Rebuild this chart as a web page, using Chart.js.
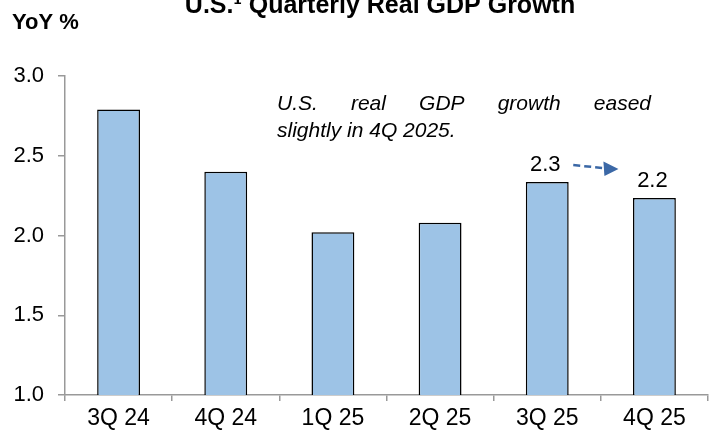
<!DOCTYPE html>
<html>
<head>
<meta charset="utf-8">
<script src="https://cdn.jsdelivr.net/npm/chart.js@4/dist/chart.umd.min.js"></script>
<style>
  html, body { margin: 0; padding: 0; background: #fff; }
  #wrap { width: 716px; height: 432px; position: relative; }
</style>
</head>
<body>
<div id="wrap"><canvas id="gdpChart"></canvas></div>
<script>
const quarters = ['3Q 24', '4Q 24', '1Q 25', '2Q 25', '3Q 25', '4Q 25'];
const gdpGrowth = [2.79, 2.40, 2.02, 2.08, 2.335, 2.235];
const shownLabels = [null, null, null, null, '2.3', '2.2'];
const yTicks = [1.0, 1.5, 2.0, 2.5, 3.0];

const FONT = '"Liberation Sans", Arial, sans-serif';

// title, unit label, note and the little arrow between the last two bars
const extras = {
    id: 'extras',
    afterDraw(chart) {
        const ctx = chart.ctx;
        const meta = chart.getDatasetMeta(0);
        ctx.save();

        ctx.fillStyle = '#000';
        ctx.textAlign = 'center';
        ctx.textBaseline = 'alphabetic';
        ctx.font = 'bold 25px ' + FONT;
        ctx.fillText('U.S.\u00B9 Quarterly Real GDP Growth', 380, 13);

        ctx.textAlign = 'left';
        ctx.font = 'bold 22px ' + FONT;
        ctx.fillText('YoY %', 12, 29);

        // value labels
        ctx.textAlign = 'center';
        ctx.font = '22px ' + FONT;
        meta.data.forEach((bar, i) => {
            if (shownLabels[i]) ctx.fillText(shownLabels[i], bar.x - 2, bar.y - 11);
        });

        // justified note
        ctx.font = 'italic 21px ' + FONT;
        ctx.textAlign = 'left';
        const words = ['U.S.', 'real', 'GDP', 'growth', 'eased'];
        const left = 277, right = 651;
        const used = words.reduce((s, w) => s + ctx.measureText(w).width, 0);
        const gap = (right - left - used) / (words.length - 1);
        let x = left;
        words.forEach(w => {
            ctx.fillText(w, x, 110);
            x += ctx.measureText(w).width + gap;
        });
        ctx.fillText('slightly in 4Q 2025.', left, 137);

        // dashed arrow
        const a = meta.data[4], b = meta.data[5];
        const x0 = a.x + 26, x1 = b.x - 36;
        const y0 = a.y - 17, y1 = a.y - 13;
        ctx.strokeStyle = '#3B68A6';
        ctx.fillStyle = '#3B68A6';
        ctx.lineWidth = 2.5;
        ctx.setLineDash([7, 4]);
        ctx.beginPath();
        ctx.moveTo(x0, y0);
        ctx.lineTo(x1 - 12, y1 - 0.7);
        ctx.stroke();
        ctx.setLineDash([]);
        ctx.beginPath();
        ctx.moveTo(x1, y1);
        ctx.lineTo(x1 - 15, y1 - 7.5);
        ctx.lineTo(x1 - 14, y1 + 7);
        ctx.closePath();
        ctx.fill();

        ctx.restore();
    }
};

new Chart(document.getElementById('gdpChart'), {
    type: 'bar',
    data: {
        labels: quarters,
        datasets: [{
            data: gdpGrowth,
            backgroundColor: '#9DC3E6',
            borderColor: '#000',
            borderWidth: 1.5,
            barPercentage: 0.4,
            categoryPercentage: 1.0
        }]
    },
    options: {
        responsive: true,
        maintainAspectRatio: false,
        animation: false,
        layout: { padding: { top: 76, right: 8, left: 0, bottom: 0 } },
        plugins: { legend: { display: false }, tooltip: { enabled: false } },
        scales: {
            y: {
                min: 1.0,
                max: 3.0,
                afterFit(scale) { scale.width = 65; },
                afterBuildTicks(scale) { scale.ticks = yTicks.map(v => ({ value: v })); },
                border: { color: '#999', width: 1.5 },
                grid: { drawOnChartArea: false, drawTicks: true, tickLength: 7, color: '#999', lineWidth: 1.5 },
                ticks: {
                    color: '#000',
                    padding: 14,
                    font: { family: FONT, size: 22 },
                    callback: v => Number(v).toFixed(1)
                }
            },
            x: {
                afterFit(scale) { scale.height = 37; },
                border: { color: '#999', width: 1.5 },
                grid: { drawOnChartArea: false, drawTicks: true, tickLength: 6, color: '#999', lineWidth: 1.5 },
                ticks: {
                    color: '#000',
                    padding: 4,
                    font: { family: FONT, size: 23 }
                }
            }
        }
    },
    plugins: [extras]
});
</script>
</body>
</html>
